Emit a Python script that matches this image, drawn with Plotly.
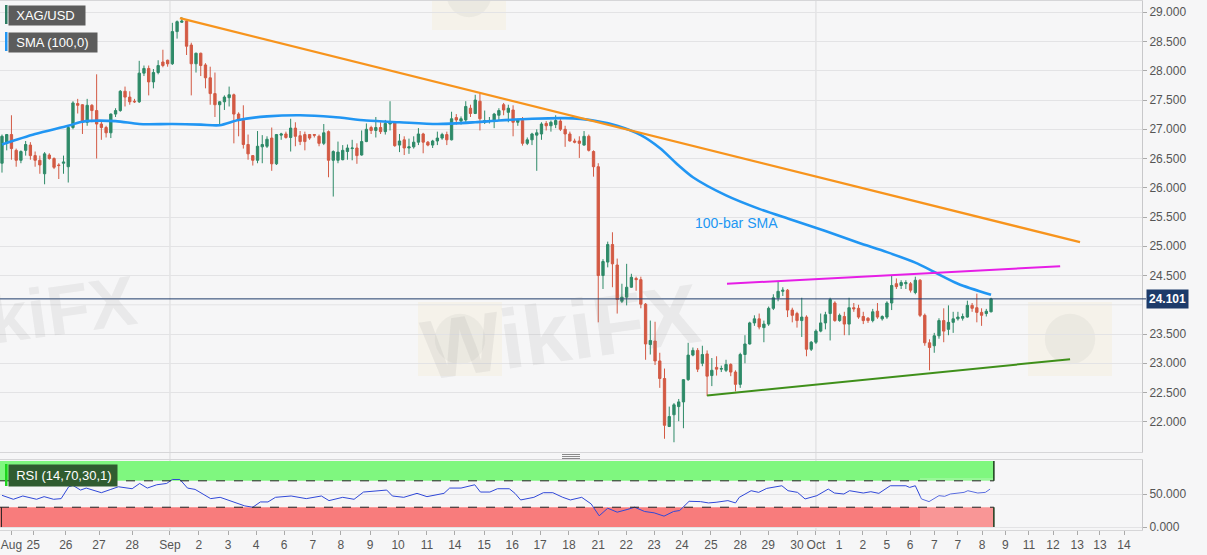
import plotly.graph_objects as go

# ---------------- data (4-hour bars) ----------------
bars = list(range(210))
opens = [26.42, 26.76, 26.91, 26.64, 26.47, 26.64, 26.73, 26.55, 26.47, 26.24,
         26.56, 26.50, 26.39, 26.42, 26.36, 27.03, 27.44, 27.42, 27.12, 27.41,
         27.32, 27.09, 27.03, 26.94, 27.26, 27.32, 27.65, 27.55, 27.48, 27.47,
         27.96, 28.04, 27.81, 27.97, 28.15, 28.18, 28.12, 28.67, 28.83, 28.85,
         28.44, 28.12, 28.30, 28.10, 27.88, 27.61, 27.42, 27.47, 27.54, 27.59,
         27.26, 27.15, 26.74, 26.55, 26.47, 26.70, 26.71, 26.85, 26.41, 26.90,
         26.92, 26.86, 27.02, 26.89, 26.91, 26.91, 26.91, 26.88, 26.76, 26.96,
         26.47, 26.47, 26.48, 26.62, 26.67, 26.68, 26.56, 26.79, 27.03, 26.98,
         27.03, 26.96, 27.09, 27.12, 26.73, 26.82, 26.68, 26.70, 26.78, 26.92,
         26.78, 26.73, 26.80, 26.85, 26.91, 26.82, 27.20, 27.14, 27.16, 27.36,
         27.27, 27.48, 27.12, 27.14, 27.15, 27.24, 27.42, 27.29, 27.33, 27.12,
         27.15, 26.76, 26.82, 26.90, 26.92, 27.10, 27.06, 27.08, 27.14, 27.00,
         26.92, 26.80, 26.80, 26.73, 26.88, 26.62, 26.36, 24.50, 24.73, 25.03,
         24.68, 24.06, 24.13, 24.30, 24.45, 24.43, 24.01, 23.32, 23.38, 23.04,
         22.74, 21.92, 22.12, 22.26, 22.34, 22.72, 23.14, 23.22, 23.00, 23.16,
         22.79, 22.93, 22.90, 22.88, 22.98, 22.85, 22.64, 23.15, 23.33, 23.69,
         23.76, 23.61, 23.67, 23.94, 24.12, 24.23, 24.25, 23.91, 23.85, 23.73,
         23.79, 23.24, 23.36, 23.55, 23.69, 23.85, 24.03, 23.73, 23.80, 23.67,
         23.95, 23.94, 23.80, 23.77, 23.73, 23.89, 23.76, 23.79, 24.03, 24.36,
         24.33, 24.36, 24.36, 24.21, 24.42, 23.82, 23.35, 23.30, 23.47, 23.73,
         23.58, 23.70, 23.76, 23.77, 23.79, 23.99, 23.95, 23.87, 23.85, 23.88]
highs = [26.91, 26.92, 27.24, 26.67, 26.64, 26.80, 26.78, 26.62, 26.55, 26.61,
         26.59, 26.52, 26.42, 26.55, 27.06, 27.48, 27.52, 27.43, 27.52, 27.43,
         27.94, 27.15, 27.06, 27.27, 27.36, 27.67, 27.73, 27.65, 27.52, 28.17,
         28.09, 28.09, 28.03, 28.18, 28.36, 28.19, 28.82, 28.86, 28.92, 28.88,
         28.48, 28.31, 28.31, 28.13, 28.07, 27.97, 27.48, 27.58, 27.73, 27.61,
         27.29, 27.41, 26.91, 26.56, 26.97, 26.90, 26.88, 27.03, 26.92, 26.94,
         26.96, 27.18, 27.12, 26.97, 26.96, 26.92, 26.92, 26.91, 27.09, 26.98,
         26.64, 26.79, 26.73, 26.74, 26.82, 26.76, 26.98, 27.10, 27.06, 27.21,
         27.12, 27.16, 27.48, 27.14, 26.92, 26.88, 26.84, 26.88, 27.02, 26.94,
         26.80, 26.82, 26.96, 26.94, 26.96, 27.30, 27.26, 27.22, 27.48, 27.42,
         27.59, 27.62, 27.32, 27.21, 27.28, 27.36, 27.45, 27.42, 27.41, 27.18,
         27.21, 26.86, 26.94, 27.00, 27.12, 27.14, 27.15, 27.24, 27.18, 27.06,
         26.96, 26.84, 26.88, 26.97, 26.91, 26.64, 26.42, 24.78, 25.08, 25.24,
         24.79, 24.36, 24.70, 24.53, 24.48, 24.48, 24.03, 23.73, 23.71, 23.18,
         22.91, 22.26, 22.32, 22.39, 22.73, 23.35, 23.27, 23.26, 23.30, 23.22,
         23.09, 23.12, 22.96, 23.06, 23.00, 22.88, 23.18, 23.48, 23.71, 23.82,
         23.85, 23.73, 23.97, 24.18, 24.39, 24.30, 24.27, 23.95, 23.88, 24.12,
         23.82, 23.38, 23.58, 23.85, 23.88, 24.12, 24.06, 23.85, 23.88, 24.12,
         24.03, 24.00, 23.88, 23.79, 23.93, 24.03, 23.82, 24.06, 24.50, 24.45,
         24.42, 24.42, 24.39, 24.48, 24.44, 23.85, 23.41, 23.52, 23.77, 23.94,
         23.99, 23.88, 23.88, 23.85, 24.07, 24.03, 24.19, 23.94, 23.93, 24.12]
lows = [26.26, 26.64, 26.48, 26.36, 26.42, 26.55, 26.48, 26.36, 26.24, 26.06,
        26.48, 26.32, 26.15, 26.24, 26.09, 27.00, 27.27, 26.92, 27.06, 27.12,
        26.50, 26.82, 26.86, 26.85, 27.21, 27.30, 27.39, 27.42, 27.45, 27.45,
        27.91, 27.58, 27.70, 27.94, 28.06, 28.07, 28.10, 28.55, 28.82, 28.27,
        27.58, 27.97, 27.91, 27.70, 27.42, 27.21, 27.06, 27.33, 27.39, 26.76,
        26.88, 26.67, 26.48, 26.38, 26.42, 26.42, 26.68, 26.29, 26.39, 26.82,
        26.84, 26.62, 26.71, 26.73, 26.64, 26.82, 26.86, 26.71, 26.73, 26.18,
        25.85, 26.42, 26.47, 26.48, 26.47, 26.41, 26.55, 26.78, 26.92, 26.86,
        26.92, 26.91, 26.98, 26.70, 26.61, 26.56, 26.58, 26.67, 26.73, 26.59,
        26.71, 26.68, 26.73, 26.82, 26.73, 26.81, 27.08, 27.08, 27.12, 27.21,
        27.26, 26.98, 27.09, 27.10, 27.02, 27.15, 27.24, 27.12, 26.88, 27.06,
        26.72, 26.73, 26.73, 26.29, 26.82, 26.98, 26.96, 27.02, 26.97, 26.70,
        26.79, 26.76, 26.51, 26.72, 26.62, 26.19, 23.70, 24.27, 24.64, 24.30,
        23.85, 24.03, 23.99, 24.29, 24.24, 23.94, 23.06, 23.15, 22.97, 22.58,
        21.71, 21.91, 21.65, 22.01, 21.89, 22.70, 23.12, 22.85, 22.95, 22.44,
        22.61, 22.79, 22.85, 22.85, 22.78, 22.52, 22.58, 23.00, 23.32, 23.64,
        23.58, 23.36, 23.64, 23.91, 24.06, 24.15, 23.79, 23.70, 23.61, 23.45,
        23.12, 23.21, 23.33, 23.53, 23.58, 23.39, 23.71, 23.71, 23.48, 23.48,
        23.88, 23.76, 23.67, 23.69, 23.70, 23.76, 23.73, 23.76, 23.91, 24.27,
        24.27, 24.27, 24.21, 24.18, 23.79, 23.30, 22.88, 23.18, 23.42, 23.36,
        23.48, 23.52, 23.73, 23.73, 23.78, 23.88, 23.70, 23.64, 23.80, 23.87]
closes = [26.88, 26.91, 26.67, 26.47, 26.62, 26.74, 26.55, 26.47, 26.39, 26.58,
          26.50, 26.35, 26.38, 26.44, 27.03, 27.45, 27.41, 27.12, 27.41, 27.32,
          27.09, 27.03, 26.94, 27.26, 27.32, 27.65, 27.55, 27.47, 27.47, 27.96,
          28.04, 27.81, 27.97, 28.09, 28.09, 28.12, 28.67, 28.84, 28.85, 28.42,
          28.12, 28.30, 28.09, 27.88, 27.61, 27.42, 27.47, 27.55, 27.59, 27.26,
          27.15, 26.74, 26.58, 26.47, 26.71, 26.74, 26.83, 26.41, 26.91, 26.92,
          26.86, 27.02, 26.88, 26.79, 26.79, 26.85, 26.90, 26.76, 26.94, 26.47,
          26.62, 26.61, 26.64, 26.68, 26.68, 26.55, 26.79, 27.00, 26.98, 27.03,
          26.96, 27.10, 27.12, 26.72, 26.80, 26.68, 26.70, 26.78, 26.92, 26.78,
          26.73, 26.80, 26.85, 26.91, 26.82, 27.18, 27.16, 27.18, 27.39, 27.27,
          27.50, 27.18, 27.15, 27.15, 27.26, 27.32, 27.33, 27.36, 27.12, 27.16,
          26.76, 26.82, 26.92, 26.94, 27.09, 27.06, 27.12, 27.15, 27.00, 26.92,
          26.80, 26.78, 26.76, 26.88, 26.64, 26.36, 24.50, 24.74, 25.03, 24.70,
          24.09, 24.13, 24.30, 24.47, 24.43, 24.01, 23.33, 23.39, 23.04, 22.74,
          21.94, 22.09, 22.29, 22.34, 22.72, 23.14, 23.22, 22.90, 23.15, 22.78,
          22.88, 22.90, 22.91, 22.98, 22.85, 22.64, 23.15, 23.33, 23.69, 23.76,
          23.62, 23.67, 23.94, 24.12, 24.23, 24.25, 23.91, 23.82, 23.73, 23.79,
          23.24, 23.36, 23.55, 23.69, 23.83, 24.09, 23.73, 23.82, 23.67, 23.95,
          23.93, 23.79, 23.73, 23.73, 23.88, 23.79, 23.80, 24.03, 24.33, 24.31,
          24.38, 24.38, 24.25, 24.42, 23.82, 23.35, 23.27, 23.47, 23.73, 23.55,
          23.70, 23.76, 23.79, 23.80, 23.99, 23.94, 23.87, 23.82, 23.89, 24.101]

sma_bar = [0, 7, 14, 17, 24, 29, 36, 42, 46, 50, 56, 63, 70, 77, 84, 92, 100, 105,
           112, 119, 125, 130, 135, 139, 143, 146, 153, 160, 167, 174, 181, 187,
           193, 197, 202, 209]
sma_val = [26.74, 26.92, 27.06, 27.13, 27.14, 27.09, 27.09, 27.08, 27.07, 27.16,
           27.22, 27.24, 27.21, 27.15, 27.12, 27.09, 27.12, 27.15, 27.18, 27.19,
           27.15, 27.06, 26.90, 26.68, 26.38, 26.18, 25.87, 25.64, 25.45, 25.26,
           25.06, 24.90, 24.72, 24.56, 24.36, 24.17]

rsi_bar = [0, 2.4, 4.4, 7.3, 8.9, 10.9, 12.5, 14.1, 15, 16.6, 17.8, 21, 23, 24.6,
           27.5, 29.1, 30.7, 32.7, 34.8, 36, 37.6, 39.2, 40.8, 44.1, 46.1, 48.1,
           51.3, 53, 54.6, 56.2, 57.8, 61.1, 62.7, 64.3, 67.5, 69.1, 72, 74.4, 76.4,
           81.3, 82.5, 84.9, 87.7, 89.8, 93.4, 94.6, 97, 99.9, 101.1, 103.1, 104.7,
           107.2, 108.4, 109.6, 112.4, 114.4, 116.4, 118.5, 120.1, 122.5, 124.5,
           126.2, 128, 130, 132.1, 133.7, 135.8, 137.8, 139.9, 141.9, 143.2, 145.2,
           147.6, 149.3, 150.9, 153.4, 155, 155.8, 158.3, 159.9, 161.6, 163.2,
           164.8, 166.1, 168.1, 169.7, 172.2, 174.6, 175.9, 177.9, 179.1, 182,
           183.6, 185.3, 187.7, 191, 191.8, 193, 194.3, 195.9, 198, 199.2, 200.4,
           203.3, 204.1, 206.2, 207.8, 208.8]
rsi_val = [48, 42, 47, 42, 46, 42, 43, 61, 63, 56, 59, 52, 57, 61, 58, 66, 59, 64,
           66, 72, 72, 59, 57, 43, 45, 40, 32, 30, 38, 38, 45, 47, 45, 43, 47, 40,
           45, 42, 53, 56, 47, 45, 51, 46, 51, 59, 59, 64, 53, 53, 58, 58, 51, 41,
           45, 52, 52, 45, 41, 45, 35, 17, 28.5, 22.5, 26.5, 30, 23.5, 21.5, 16.5,
           23.5, 25, 39, 38.5, 36.5, 37.5, 40, 36.5, 45, 55, 52.5, 58.5, 60, 62.5,
           55, 52.5, 42.5, 47.5, 57.5, 51.5, 50, 55, 51.5, 53.5, 51, 62.5, 62.5,
           60, 62.5, 42.5, 38.5, 47.5, 46.5, 50, 52.5, 55, 51.5, 52.5, 57.5]

tick_bar = [2.0, 6.6, 13.5, 20.5, 27.5, 35.5, 41.6, 47.8, 53.7, 59.6, 65.7, 71.6,
            77.8, 83.7, 89.8, 95.7, 101.9, 107.8, 113.7, 119.8, 126.0, 131.9,
            137.8, 143.7, 149.8, 156.0, 161.9, 168.0, 172.0, 176.9, 181.9, 187.0,
            191.9, 197.0, 202.0, 207.1, 212.0, 217.0, 222.1, 227.2, 232.0, 237.1]
tick_text = ["Aug", "25", "26", "27", "28", "Sep", "2", "3", "4", "6", "7", "8",
             "9", "10", "11", "14", "15", "16", "17", "18", "21", "22", "23", "24",
             "25", "28", "29", "30", "Oct", "1", "2", "5", "6", "7", "7", "8", "9",
             "11", "12", "13", "13", "14"]
month_bar = [35.5, 172.0]

price_ticks = [22.0, 22.5, 23.0, 23.5, 24.0, 24.5, 25.0, 25.5, 26.0, 26.5, 27.0,
               27.5, 28.0, 28.5, 29.0]
last_price = 24.101
orange_bar = [37.6, 227.8]
orange_val = [28.90, 25.07]
magenta_bar = [153.2, 223.6]
magenta_val = [24.36, 24.66]
support_bar = [149.0, 225.7]
support_val = [22.45, 23.07]
rsi_levels = [30, 70]

# ---------------- geometry ----------------
W, H = 1207, 555
ML, MR, MT, MB = 0, 65, 1, 25
PW = W - ML - MR
PH = H - MT - MB


def px(x):
    return x / PW


def py(y):
    return (H - MB - y) / PH


FONT = "Liberation Sans, Arial, sans-serif"
UP, DOWN = "#2e8a68", "#d35a44"
BG = "#f6f6f7"
GRID = "#e3e3e5"

fig = go.Figure()

fig.add_trace(go.Candlestick(
    x=bars, open=opens, high=highs, low=lows, close=closes,
    increasing=dict(line=dict(color=UP, width=1), fillcolor=UP),
    decreasing=dict(line=dict(color=DOWN, width=1), fillcolor=DOWN),
    whiskerwidth=0, xaxis="x", yaxis="y", showlegend=False, hoverinfo="skip"))

fig.add_trace(go.Scatter(x=sma_bar, y=sma_val, mode="lines",
                         line=dict(color="#2196f3", width=2.6, shape="spline", smoothing=0.8),
                         xaxis="x", yaxis="y", showlegend=False, hoverinfo="skip"))

fig.add_trace(go.Scatter(x=orange_bar, y=orange_val, mode="lines",
                         line=dict(color="#f7941d", width=2.2),
                         xaxis="x", yaxis="y", showlegend=False, hoverinfo="skip"))
fig.add_trace(go.Scatter(x=magenta_bar, y=magenta_val, mode="lines",
                         line=dict(color="#e61ee6", width=2),
                         xaxis="x", yaxis="y", showlegend=False, hoverinfo="skip"))
fig.add_trace(go.Scatter(x=support_bar, y=support_val, mode="lines",
                         line=dict(color="#3f8f1a", width=2),
                         xaxis="x", yaxis="y", showlegend=False, hoverinfo="skip"))

fig.add_trace(go.Scatter(x=rsi_bar, y=rsi_val, mode="lines",
                         line=dict(color="#3048d8", width=1),
                         xaxis="x2", yaxis="y2", showlegend=False, hoverinfo="skip"))

band_end = bars[-1] + 0.6
band_start = -0.42
shapes = []
# faint logo watermarks (rounded tiles)
for (x0, y0, x1, y1) in [(418, 302, 502, 376), (1028, 302, 1112, 376), (432, -40, 506, 30)]:
    shapes.append(dict(type="rect", xref="paper", yref="paper", x0=px(x0), x1=px(x1),
                       y0=py(y1), y1=py(y0), fillcolor="rgba(236,214,150,0.13)",
                       line=dict(width=0), layer="below"))
    cx, cy, r = (x0 + x1) / 2, (y0 + y1) / 2, (x1 - x0) * 0.3
    shapes.append(dict(type="circle", xref="paper", yref="paper", x0=px(cx - r), x1=px(cx + r),
                       y0=py(cy + r), y1=py(cy - r), fillcolor="rgba(140,140,140,0.09)",
                       line=dict(width=0), layer="below"))
# RSI bands
shapes.append(dict(type="rect", xref="x2", yref="y2", x0=band_start, x1=band_end,
                   y0=rsi_levels[1], y1=100, fillcolor="#7ff77f", line=dict(width=0), layer="below"))
shapes.append(dict(type="rect", xref="x2", yref="y2", x0=band_start, x1=band_end,
                   y0=0, y1=rsi_levels[0], fillcolor="#f87c7c", line=dict(width=0), layer="below"))
shapes.append(dict(type="rect", xref="paper", yref="paper", x0=px(920), x1=px(1000),
                   y0=py(530), y1=py(478), fillcolor="rgba(255,255,255,0.2)",
                   line=dict(width=0)))
for lv in rsi_levels:
    shapes.append(dict(type="line", xref="x2", yref="y2", x0=band_start, x1=band_end,
                       y0=lv, y1=lv, line=dict(color="#222", width=1, dash="dash")))
for (a, b) in [(rsi_levels[1], 100), (0, rsi_levels[0])]:
    shapes.append(dict(type="line", xref="x2", yref="y2", x0=band_end, x1=band_end,
                       y0=a, y1=b, line=dict(color="#1a3a1a", width=1.5)))
shapes.append(dict(type="line", xref="x2", yref="y2", x0=band_start + 0.3, x1=band_start + 0.3,
                   y0=0, y1=rsi_levels[0], line=dict(color="#222", width=1)))
# month separators
for mb in month_bar:
    shapes.append(dict(type="line", xref="x", yref="paper", x0=mb, x1=mb, y0=0, y1=1,
                       line=dict(color="#dadadc", width=1), layer="below"))
# gridline under the price tag (its label is hidden by the tag)
shapes.append(dict(type="line", xref="paper", yref="y", x0=0, x1=1, y0=24.0, y1=24.0,
                   line=dict(color=GRID, width=1), layer="below"))
# last price line
shapes.append(dict(type="line", xref="paper", yref="y", x0=0, x1=px(1146), y0=last_price,
                   y1=last_price, line=dict(color="#1f3c6a", width=1)))
# legend strips
shapes.append(dict(type="rect", xref="paper", yref="paper", x0=px(5), x1=px(7.5),
                   y0=py(24), y1=py(5), fillcolor="#2d7d62", line=dict(width=0)))
shapes.append(dict(type="rect", xref="paper", yref="paper", x0=px(5), x1=px(7.5),
                   y0=py(51), y1=py(32), fillcolor="#2196f3", line=dict(width=0)))
shapes.append(dict(type="rect", xref="paper", yref="paper", x0=px(5), x1=px(7.5),
                   y0=py(486), y1=py(464), fillcolor="#1cd41c", line=dict(width=0)))
# pane splitter
for yy in (454.5, 456.5, 458.5):
    shapes.append(dict(type="line", xref="paper", yref="paper", x0=px(562), x1=px(580),
                       y0=py(yy), y1=py(yy), line=dict(color="#8a8a8a", width=1)))

annotations = []


def label_box(text, x, y, w, h, bg):
    annotations.append(dict(xref="paper", yref="paper", x=px(x), y=py(y), xanchor="left",
                            yanchor="top", text=text, showarrow=False, width=w, height=h,
                            align="left", bgcolor=bg, borderpad=0,
                            font=dict(family=FONT, size=13, color="white")))


label_box("  XAG/USD", 7.5, 5, 76, 19, "#5c5c5c")
label_box("  SMA (100,0)", 7.5, 32, 88, 19, "#5c5c5c")
label_box("  RSI (14,70,30,1)", 7.5, 464, 108, 21, "#305c30")

annotations.append(dict(xref="x", yref="y", x=155.3, y=25.40, text="100-bar SMA",
                        showarrow=False, font=dict(family=FONT, size=14, color="#2196f3")))
annotations.append(dict(xref="paper", yref="y", x=px(1146), y=last_price, xanchor="left",
                        text="<b>24.101</b>", showarrow=False, bgcolor="#1d3b6a", borderpad=2,
                        font=dict(family=FONT, size=12, color="white")))
# faint watermarks
for (wx, wy, ws) in [(20, 316, 70), (560, 332, 84)]:
    annotations.append(dict(xref="paper", yref="paper", x=px(wx), y=py(wy), xanchor="center",
                            yanchor="middle", text="<b>WikiFX</b>",
                            showarrow=False, textangle=-8,
                            font=dict(family=FONT, size=ws, color="rgba(140,140,140,0.12)")))

fig.update_layout(
    width=W, height=H,
    margin=dict(l=ML, r=MR, t=MT, b=MB),
    paper_bgcolor=BG, plot_bgcolor=BG,
    hovermode=False, showlegend=False,
    font=dict(family=FONT, size=12, color="#555"),
    shapes=shapes, annotations=annotations,
    xaxis=dict(domain=[0, 1], range=[-0.42, 240.9], anchor="y", showticklabels=False,
               showgrid=False, zeroline=False, showline=True, mirror=True,
               linecolor="#d6d6d8", rangeslider=dict(visible=False), ticks=""),
    xaxis2=dict(domain=[0, 1], range=[-0.42, 240.9], anchor="y2", matches="x",
                tickmode="array", tickvals=tick_bar, ticktext=tick_text,
                ticks="outside", ticklen=4, tickcolor="#aaa", showgrid=False,
                ticklabeloverflow="allow",
                zeroline=False, showline=True, mirror=True, linecolor="#d6d6d8",
                tickfont=dict(family=FONT, size=12, color="#555")),
    yaxis=dict(domain=[0.1475, 1], range=[21.484, 29.193], anchor="x", side="right",
               tickmode="array", tickvals=[v for v in price_ticks if v != 24.0],
               tickformat=".3f", gridcolor=GRID, zeroline=False,
               ticks="outside", ticklen=4, tickcolor="#aaa", showline=True,
               linecolor="#c8c8ca", tickfont=dict(family=FONT, size=12, color="#555")),
    yaxis2=dict(domain=[0, 0.1323], range=[-4.5, 101.5], anchor="x2", side="right",
                tickmode="array", tickvals=[0, 50], ticktext=["0.000", "50.000"],
                gridcolor=GRID, zeroline=False, ticks="outside", ticklen=4,
                tickcolor="#aaa", showline=True, linecolor="#c8c8ca",
                tickfont=dict(family=FONT, size=12, color="#555")),
)

fig.write_html("out.html", config={"displayModeBar": False},
               post_script="document.body.style.margin='0';")
